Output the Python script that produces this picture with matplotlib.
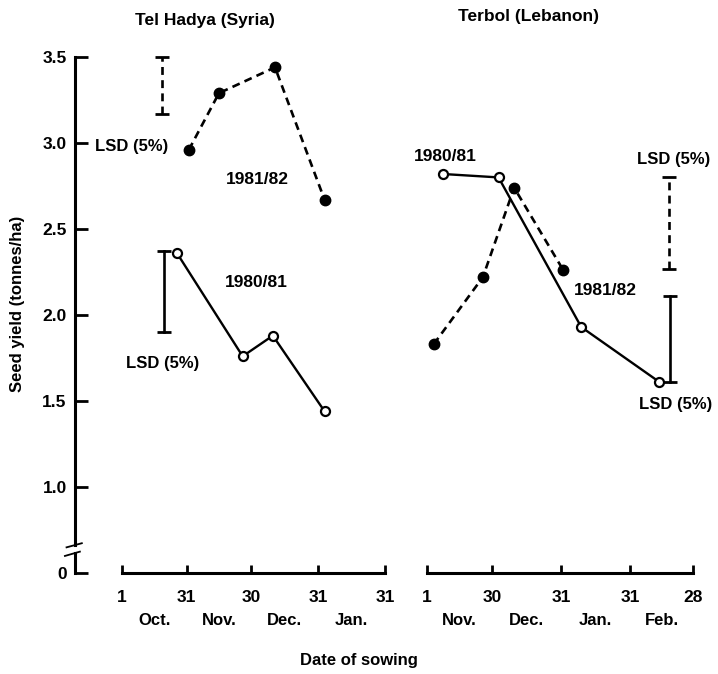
import matplotlib.pyplot as plt
from matplotlib import transforms

plt.rcParams['font.family'] = ['Liberation Sans', 'DejaVu Sans']
plt.rcParams['font.weight'] = 'bold'

# Tel Hadya: sowing date as days after 1 Oct
th_ticks = [0, 30, 60, 91, 122]
th_tick_labels = ['1', '31', '30', '31', '31']
th_months = ['Oct.', 'Nov.', 'Dec.', 'Jan.']
th_8182_days = [31, 45, 71, 94]
th_8182_yield = [2.96, 3.29, 3.44, 2.67]
th_8081_days = [25.5, 56, 70, 94]
th_8081_yield = [2.36, 1.76, 1.88, 1.44]
th_lsd_8182 = [3.17, 3.50]
th_lsd_8081 = [1.90, 2.37]

# Terbol: sowing date as days after 1 Nov
tb_ticks = [0, 29, 60, 91, 119]
tb_tick_labels = ['1', '30', '31', '31', '28']
tb_months = ['Nov.', 'Dec.', 'Jan.', 'Feb.']
tb_8081_days = [7, 32, 69, 104]
tb_8081_yield = [2.82, 2.80, 1.93, 1.61]
tb_8182_days = [3, 25, 39, 61]
tb_8182_yield = [1.83, 2.22, 2.74, 2.26]
tb_lsd_8182 = [2.27, 2.80]
tb_lsd_8081 = [1.61, 2.11]

# broken y axis: the "0" tick sits at 0.5
y_ticks = [0.5, 1.0, 1.5, 2.0, 2.5, 3.0, 3.5]
y_tick_labels = ['0', '1.0', '1.5', '2.0', '2.5', '3.0', '3.5']

W, H = 718, 674
fig = plt.figure(figsize=(W / 100, H / 100), dpi=100)
ylim = (0.401, 3.599)

ax1 = fig.add_axes([75 / W, 84 / H, 325 / W, 550 / H])
ax1.set_xlim(-21.8, 129)
ax2 = fig.add_axes([410 / W, 84 / H, 300 / W, 550 / H])
ax2.set_xlim(-7.6, 126.6)


def style_axes(ax, ticks, labels, months):
    ax.set_ylim(*ylim)
    ax.patch.set_visible(False)
    for s in ['top', 'right', 'left']:
        ax.spines[s].set_visible(False)
    ax.spines['bottom'].set_position(('data', 0.5))
    ax.spines['bottom'].set_bounds(ticks[0], ticks[-1])
    ax.spines['bottom'].set_linewidth(2.2)
    ax.set_xticks(ticks)
    ax.set_xticklabels(labels)
    mids = [(a + b) / 2 for a, b in zip(ticks[:-1], ticks[1:])]
    ax.set_xticks(mids, minor=True)
    ax.set_xticklabels(months, minor=True)
    ax.tick_params(axis='x', which='major', direction='in', length=6,
                   width=2, pad=12, labelsize=12.5)
    ax.tick_params(axis='x', which='minor', length=0, pad=29, labelsize=12)
    ax.tick_params(axis='y', left=False, labelleft=False)


def lsd(ax, x, span, ls):
    ax.plot([x, x], span, color='k', lw=1.9, ls=ls, clip_on=False)
    ax.plot([x, x], span, ls='none', marker='_', ms=10, mew=2,
            color='k', clip_on=False)


style_axes(ax1, th_ticks, th_tick_labels, th_months)
style_axes(ax2, tb_ticks, tb_tick_labels, tb_months)

# y axis with a break near the bottom
ax1.spines['left'].set_visible(True)
ax1.spines['left'].set_linewidth(2.2)
ax1.spines['left'].set_bounds(0.665, 3.5)
ax1.set_yticks(y_ticks)
ax1.set_yticklabels(y_tick_labels)
ax1.tick_params(axis='y', left=True, labelleft=True, direction='in',
                length=9, width=2, pad=6, labelsize=12.5)
bt = transforms.blended_transform_factory(ax1.transAxes, ax1.transData)
ax1.plot([0, 0], [0.5, 0.615], color='k', lw=2.2, transform=bt, clip_on=False)
ax1.plot([-0.026, 0.021], [0.649, 0.673], color='k', lw=1.3, transform=bt,
         clip_on=False)
ax1.plot([-0.031, 0.015], [0.599, 0.624], color='k', lw=1.3, transform=bt,
         clip_on=False)

dash = (0, (3, 2))

# Tel Hadya
ax1.plot(th_8182_days, th_8182_yield, color='k', lw=1.9, ls=dash,
         marker='o', ms=7.5, mfc='k', mec='k')
ax1.plot(th_8081_days, th_8081_yield, color='k', lw=1.7, ls='-',
         marker='o', ms=6.5, mfc='white', mec='k', mew=1.6)
lsd(ax1, 18.6, th_lsd_8182, dash)
lsd(ax1, 19.5, th_lsd_8081, '-')
ax1.text(62.6, 2.785, '1981/82', ha='center', va='center', fontsize=12.5)
ax1.text(62.2, 2.19, '1980/81', ha='center', va='center', fontsize=12.5)
ax1.text(4.6, 2.98, 'LSD (5%)', ha='center', va='center', fontsize=12)
ax1.text(19.0, 1.72, 'LSD (5%)', ha='center', va='center', fontsize=12)

# Terbol
ax2.plot(tb_8182_days, tb_8182_yield, color='k', lw=1.9, ls=dash,
         marker='o', ms=7.5, mfc='k', mec='k')
ax2.plot(tb_8081_days, tb_8081_yield, color='k', lw=1.7, ls='-',
         marker='o', ms=6.5, mfc='white', mec='k', mew=1.6)
lsd(ax2, 108.3, tb_lsd_8182, dash)
lsd(ax2, 108.7, tb_lsd_8081, '-')
ax2.text(8.0, 2.92, '1980/81', ha='center', va='center', fontsize=12.5)
ax2.text(110.5, 2.905, 'LSD (5%)', ha='center', va='center', fontsize=12)
ax2.text(79.6, 2.14, '1981/82', ha='center', va='center', fontsize=12.5)
ax2.text(111.4, 1.48, 'LSD (5%)', ha='center', va='center', fontsize=12)

fig.text(205 / W, 1 - 21 / H, 'Tel Hadya (Syria)', ha='center', va='center',
         fontsize=12.5)
fig.text(528 / W, 1 - 17 / H, 'Terbol (Lebanon)', ha='center', va='center',
         fontsize=12.5)
fig.text(18 / W, 1 - 304 / H, 'Seed yield (tonnes/ha)', ha='center',
         va='center', rotation=90, fontsize=12)
fig.text(359 / W, 1 - 660 / H, 'Date of sowing', ha='center', va='center',
         fontsize=12)

fig.savefig('out.png', dpi=100, facecolor='white')
